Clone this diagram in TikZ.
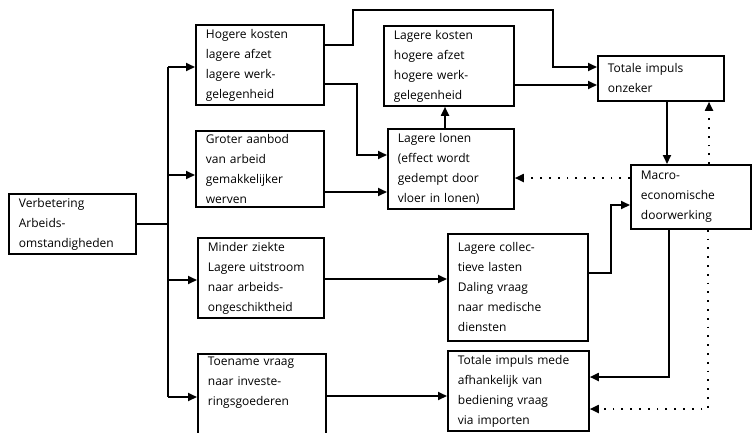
\documentclass[tikz,border=0pt]{standalone}
\usepackage{fontspec}
\setmainfont{Open Sans}
\usetikzlibrary{arrows.meta}

\tikzset{
	blok/.style 2 args={draw, line width=1.8pt, anchor=north west, align=left,
		inner xsep=10pt, text width=#1, minimum height=#2,
		font=\fontsize{12}{20}\selectfont},
	pijl/.style={line width=1.8pt, -{Triangle[length=9pt,width=8pt]}},
	stip/.style={line width=1.8pt, dash pattern=on 1.8pt off 7pt,
		-{Triangle[length=9pt,width=8pt]}}
}

\begin{document}
\begin{tikzpicture}[x=1pt, y=-1pt]
	\useasboundingbox (0,0) rectangle (752,432);
	
	\node[blok={107pt}{60pt}] (A) at (8,193) {Verbetering\\Arbeids-\\omstandigheden};
	\node[blok={108pt}{80pt}] (B) at (195,24) {Hogere kosten\\lagere afzet\\lagere werk-\\gelegenheid};
	\node[blok={108pt}{72pt}] (C) at (195,130) {Groter aanbod\\van arbeid\\gemakkelijker\\werven};
	\node[blok={106pt}{80pt}] (D) at (197,237) {Minder ziekte\\Lagere uitstroom\\naar arbeids-\\ongeschiktheid};
	\node[blok={108pt}{77pt}] (E) at (197,353) {Toename vraag\\naar investe-\\ringsgoederen\\\strut};
	
	\node[blok={110pt}{80pt}] (F) at (383,25) {Lagere kosten\\hogere afzet\\hogere werk-\\gelegenheid};
	\node[blok={106pt}{80pt}] (G) at (387,128) {Lagere lonen\\(effect wordt\\gedempt door\\vloer in lonen)};
	\node[blok={120pt}{107pt}] (J) at (447,233) {Lagere collec-\\tieve lasten\\Daling vraag\\naar medische\\diensten};
	\node[blok={121pt}{80pt}] (K) at (447,350) {Totale impuls mede\\afhankelijk van\\bediening vraag\\via importen};
	
	\node[blok={106pt}{45pt}] (H) at (597,55) {Totale impuls\\onzeker};
	\node[blok={100pt}{64pt}] (I) at (630,164) {Macro-\\economische\\doorwerking};
	
	% verdeelpunten
	\coordinate (t1) at (168,67);
	\coordinate (t2) at (168,175);
	\coordinate (t3) at (168,280);
	\coordinate (t4) at (168,397);
	
	\draw[line width=1.8pt] (A.east) -- (A.east -| t1);
	\draw[line width=1.8pt] (t1) -- (t4);
	\draw[pijl] (t1) -- (B.west |- t1);
	\draw[pijl] (t2) -- (C.west |- t2);
	\draw[pijl] (t3) -- (D.west |- t3);
	\draw[pijl] (t4) -- (E.west |- t4);
	
	\draw[pijl] (B.east |- 0,45) -- (353,45) |- (553,10) |- (H.west |- 0,67);
	\draw[pijl] (B.east |- 0,84) -- (357,84) |- (G.west |- 0,155);
	\draw[pijl] (C.east |- 0,192) -- (G.west |- 0,192);
	\draw[pijl] (G.north -| 445,0) -- (F.south -| 445,0);
	\draw[pijl] (F.east |- 0,85) -- (H.west |- 0,85);
	
	\draw[pijl] (H.south -| 667,0) -- (I.north -| 667,0);
	\draw[stip] (I.north -| 709,0) -- (H.south -| 709,0);
	\draw[stip] (I.west |- 0,178) -- (G.east |- 0,178);
	
	\draw[pijl] (D.east |- 0,279) -- (J.west |- 0,279);
	\draw[pijl] (J.east |- 0,273) -- (611,273) |- (I.west |- 0,205);
	
	\draw[pijl] (E.east |- 0,396) -- (K.west |- 0,396);
	\draw[pijl] (I.south -| 669,0) |- (K.east |- 0,377);
	\draw[stip] (I.south -| 708,0) |- (K.east |- 0,409);
\end{tikzpicture}
\end{document}
